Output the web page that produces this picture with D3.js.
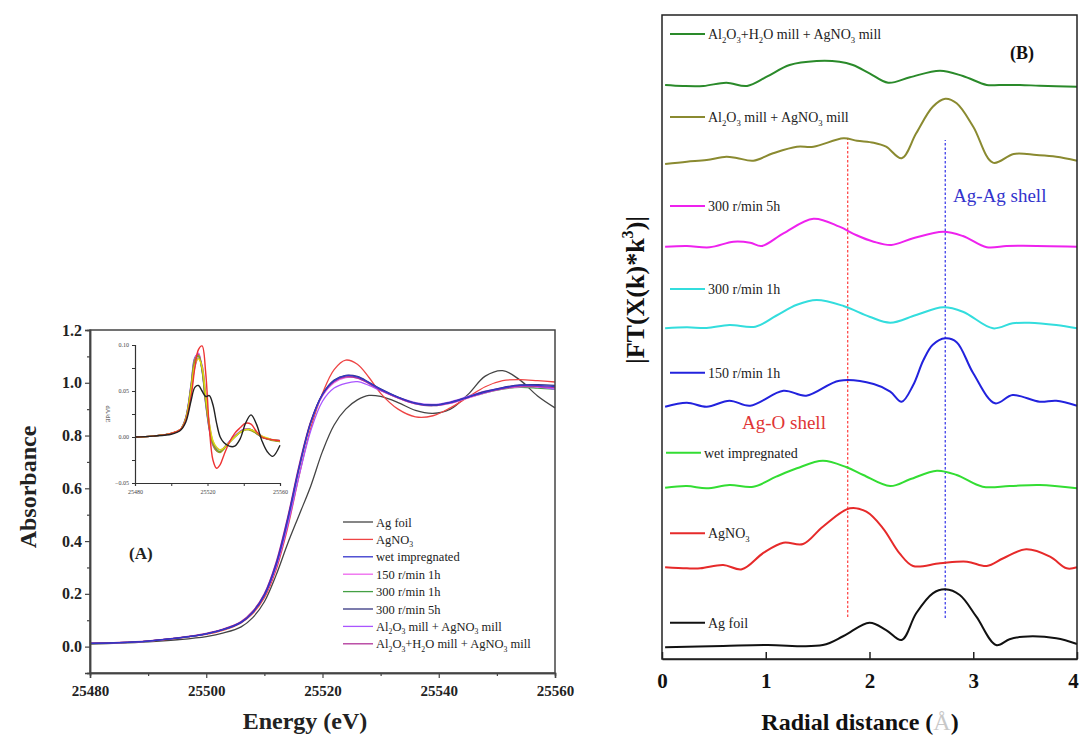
<!DOCTYPE html>
<html>
<head>
<meta charset="utf-8">
<script src="https://cdn.jsdelivr.net/npm/d3@7"></script>
<style>
  body { margin: 0; background: #fff; }
  text { font-family: "Liberation Serif", "DejaVu Serif", serif; }
</style>
</head>
<body>
<script>
// ---------------- DATA: panel (A) XANES ----------------
const energy = [25480, 25485, 25490, 25495, 25500, 25503, 25506, 25508, 25510, 25512, 25514, 25516, 25518, 25520, 25522, 25524, 25526, 25528, 25530, 25533, 25536, 25539, 25542, 25545, 25548, 25551, 25554, 25557, 25560];
const agFoilXanes    = [0.010,0.013,0.018,0.026,0.038,0.052,0.075,0.11,0.17,0.27,0.39,0.50,0.61,0.74,0.84,0.90,0.935,0.952,0.948,0.925,0.895,0.884,0.90,0.955,1.025,1.046,1.01,0.95,0.905];
const agno3Xanes     = [0.012,0.015,0.021,0.031,0.046,0.062,0.09,0.125,0.185,0.29,0.45,0.65,0.83,0.96,1.05,1.086,1.07,1.02,0.96,0.90,0.871,0.875,0.905,0.945,0.985,1.008,1.012,1.008,1.003];
const wetXanes       = [0.012,0.015,0.021,0.032,0.048,0.065,0.092,0.13,0.195,0.31,0.48,0.68,0.85,0.955,1.008,1.027,1.022,1.0,0.975,0.945,0.922,0.915,0.925,0.945,0.965,0.98,0.99,0.99,0.985];
const mill150Xanes   = [0.012,0.015,0.021,0.032,0.048,0.066,0.094,0.133,0.2,0.315,0.485,0.685,0.85,0.95,1.0,1.02,1.018,0.998,0.972,0.942,0.92,0.913,0.922,0.942,0.962,0.977,0.985,0.984,0.98];
const mill300hXanes  = [0.012,0.015,0.021,0.032,0.048,0.065,0.093,0.131,0.197,0.312,0.482,0.682,0.85,0.952,1.004,1.025,1.02,0.999,0.973,0.943,0.92,0.913,0.923,0.943,0.962,0.976,0.983,0.98,0.975];
const mill300h5Xanes = [0.012,0.015,0.021,0.032,0.048,0.065,0.092,0.13,0.195,0.31,0.48,0.68,0.852,0.957,1.01,1.028,1.024,1.002,0.977,0.946,0.923,0.916,0.926,0.946,0.967,0.982,0.992,0.993,0.99];
const al2o3Xanes     = [0.012,0.015,0.021,0.032,0.048,0.065,0.092,0.13,0.193,0.3,0.46,0.65,0.82,0.93,0.98,0.998,1.004,0.99,0.97,0.945,0.925,0.918,0.928,0.948,0.968,0.982,0.99,0.985,0.975];
const al2o3H2OXanes  = [0.013,0.016,0.022,0.033,0.05,0.067,0.095,0.134,0.2,0.318,0.49,0.69,0.855,0.955,1.005,1.022,1.018,0.997,0.972,0.943,0.921,0.914,0.924,0.944,0.964,0.978,0.987,0.986,0.982];

const sampleNames = ["Ag foil", "AgNO_3", "wet impregnated", "150 r/min 1h", "300 r/min 1h", "300 r/min 5h", "Al_2O_3 mill + AgNO_3 mill", "Al_2O_3+H_2O mill + AgNO_3 mill"];
const xanesColors = ["#444444", "#ee4444", "#3535cc", "#ee66ee", "#44a044", "#353580", "#aa55ff", "#b03399"];

// inset: first derivative
const energyDeriv = [25480,25490,25500,25505,25508,25511,25513,25515,25517,25519,25521,25523,25525,25527,25529,25532,25535,25538,25541,25544,25547,25550,25553,25556,25560];
const agFoilDeriv    = [0,0.001,0.003,0.007,0.016,0.04,0.054,0.056,0.05,0.044,0.045,0.035,0.015,0.0,-0.006,-0.01,-0.01,-0.002,0.015,0.024,0.014,-0.004,-0.016,-0.021,-0.009];
const agno3Deriv     = [0,0.001,0.004,0.008,0.018,0.045,0.075,0.095,0.099,0.07,0.01,-0.025,-0.034,-0.03,-0.02,-0.006,0.004,0.01,0.015,0.014,0.006,0.0,-0.002,-0.003,-0.004];
const wetDeriv       = [0,0.001,0.004,0.008,0.021,0.058,0.086,0.09,0.072,0.036,0.008,-0.009,-0.015,-0.016,-0.012,-0.005,0.001,0.006,0.009,0.008,0.004,0.0,-0.002,-0.003,-0.004];
const mill150Deriv   = [0,0.001,0.004,0.008,0.021,0.057,0.085,0.091,0.074,0.038,0.009,-0.009,-0.015,-0.016,-0.012,-0.005,0.001,0.006,0.009,0.008,0.004,0.0,-0.002,-0.003,-0.004];
const mill300hDeriv  = [0,0.001,0.004,0.008,0.02,0.055,0.082,0.088,0.074,0.04,0.011,-0.007,-0.014,-0.016,-0.013,-0.006,0.0,0.005,0.008,0.008,0.004,0.0,-0.002,-0.003,-0.005];
const mill300h5Deriv = [0,0.001,0.004,0.008,0.02,0.056,0.084,0.089,0.073,0.038,0.01,-0.008,-0.015,-0.017,-0.013,-0.006,0.0,0.005,0.008,0.007,0.004,0.0,-0.002,-0.004,-0.005];
const al2o3Deriv     = [0,0.001,0.004,0.008,0.019,0.05,0.076,0.086,0.078,0.046,0.014,-0.005,-0.012,-0.014,-0.012,-0.006,0.0,0.005,0.008,0.008,0.005,0.001,-0.002,-0.003,-0.004];
const al2o3H2ODeriv  = [0,0.001,0.004,0.008,0.019,0.052,0.078,0.085,0.076,0.045,0.015,-0.004,-0.011,-0.014,-0.012,-0.006,0.0,0.005,0.008,0.008,0.005,0.001,-0.001,-0.003,-0.004];
const derivColors = ["#222222", "#ee3333", "#4444dd", "#dd55dd", "#55aa33", "#999922", "#9944dd", "#dddd11"];

const xanesTicksX = [25480, 25500, 25520, 25540, 25560];
const xanesTicksY = [0.0, 0.2, 0.4, 0.6, 0.8, 1.0, 1.2];
const derivTicksY = [-0.05, 0.00, 0.05, 0.10];
const derivTickLabelsX = [25480, 25520, 25560];

// ---------------- DATA: panel (B) FT-EXAFS (stacked, arbitrary units) ----------------
const ftAgFoil = [[0.03,0.182],[0.59,0.202],[1.01,0.217],[1.55,0.217],[1.75,0.357],[2.0,0.564],[2.16,0.450],[2.31,0.295],[2.45,0.710],[2.61,1.020],[2.73,1.082],[2.87,0.994],[3.03,0.657],[3.22,0.217],[3.35,0.306],[3.48,0.346],[3.8,0.322],[4.0,0.233]];
const ftAgNO3 = [[0.03,1.424],[0.24,1.408],[0.37,1.408],[0.59,1.460],[0.77,1.393],[0.98,1.651],[1.17,1.806],[1.36,1.786],[1.55,2.054],[1.81,2.340],[1.97,2.287],[2.13,2.030],[2.29,1.641],[2.42,1.444],[2.68,1.486],[2.94,1.511],[3.13,1.444],[3.29,1.564],[3.51,1.703],[3.74,1.589],[3.9,1.408],[4.0,1.424]];
const ftWet = [[0.03,2.660],[0.24,2.686],[0.43,2.651],[0.65,2.702],[0.88,2.675],[1.1,2.831],[1.3,2.961],[1.55,3.079],[1.78,2.977],[1.94,2.857],[2.2,2.686],[2.39,2.790],[2.65,2.924],[2.84,2.857],[3.09,2.675],[3.35,2.686],[3.64,2.702],[4.0,2.651]];
const ft150 = [[0.03,3.918],[0.24,3.980],[0.43,3.918],[0.65,4.011],[0.85,3.933],[1.17,4.166],[1.39,4.089],[1.71,4.321],[2.04,4.270],[2.2,4.151],[2.31,3.995],[2.42,4.25],[2.52,4.643],[2.61,4.88],[2.73,4.980],[2.84,4.92],[3.0,4.436],[3.21,3.970],[3.38,4.099],[3.64,3.995],[3.8,4.011],[4.0,3.933]];
const ft300h = [[0.03,5.135],[0.24,5.151],[0.43,5.14],[0.65,5.186],[0.9,5.16],[1.1,5.33],[1.3,5.50],[1.49,5.575],[1.75,5.481],[2.0,5.315],[2.2,5.222],[2.45,5.342],[2.71,5.461],[2.9,5.393],[3.19,5.135],[3.38,5.213],[3.54,5.222],[3.8,5.186],[4.0,5.135]];
const ft300h5 = [[0.03,6.402],[0.24,6.413],[0.46,6.393],[0.69,6.480],[0.85,6.464],[0.96,6.413],[1.17,6.610],[1.46,6.837],[1.71,6.713],[1.87,6.584],[2.04,6.480],[2.21,6.429],[2.42,6.533],[2.71,6.635],[2.9,6.568],[3.13,6.393],[3.32,6.413],[3.48,6.418],[4.0,6.402]];
const ftAl2O3 = [[0.03,7.686],[0.24,7.722],[0.43,7.748],[0.62,7.800],[0.72,7.780],[0.88,7.738],[1.07,7.853],[1.30,7.955],[1.46,7.955],[1.75,8.085],[1.88,8.048],[2.04,8.017],[2.16,7.955],[2.31,7.775],[2.45,8.163],[2.61,8.576],[2.73,8.700],[2.84,8.629],[3.0,8.266],[3.19,7.707],[3.39,7.842],[3.61,7.826],[3.80,7.800],[4.0,7.738]];
const ftAl2O3H2O = [[0.03,8.913],[0.2,8.898],[0.4,8.898],[0.62,8.949],[0.82,8.898],[1.01,9.042],[1.23,9.224],[1.49,9.286],[1.71,9.275],[1.84,9.224],[2.0,9.095],[2.18,8.949],[2.39,9.033],[2.68,9.135],[2.9,9.053],[3.13,8.913],[3.25,8.913],[3.45,8.913],[3.64,8.902],[4.0,8.887]];
const ftColors = ["#111111", "#e62a2a", "#33dd33", "#2222dd", "#33dddd", "#ee22ee", "#8a8a30", "#2a8a2a"];
const ftTicksX = [0, 1, 2, 3, 4];
const shellAgO = [1.79, 0.652, 8.09];   // r, from, to
const shellAgAg = [2.73, 0.637, 8.06];

// ---------------- DRAW ----------------
const W = 1081, H = 737;
const svg = d3.select("body").append("svg").attr("width", W).attr("height", H);

function rich(textSel, str, fs) {
  // "_d" subscript, "^d" superscript
  const parts = str.split(/(_\d|\^\d)/).filter(p => p.length);
  let shift = 0;
  parts.forEach(p => {
    if (p[0] === "_" || p[0] === "^") {
      const d = p[0] === "_" ? fs * 0.28 : -fs * 0.42;
      textSel.append("tspan").attr("dy", d - shift).attr("font-size", fs * 0.62).text(p[1]);
      shift = d;
    } else {
      textSel.append("tspan").attr("dy", -shift).text(p);
      shift = 0;
    }
  });
}

// ===== Panel A =====
const A = {l: 90, r: 555, t: 330, b: 673};
const xA = d3.scaleLinear().domain([25480, 25560]).range([A.l, A.r]);
const yA = d3.scaleLinear().domain([-0.1, 1.2]).range([A.b, A.t]);
const gA = svg.append("g");

const xanesSeries = [agFoilXanes, agno3Xanes, wetXanes, mill150Xanes, mill300hXanes, mill300h5Xanes, al2o3Xanes, al2o3H2OXanes];
const lineA = d3.line().x(d => xA(d[0])).y(d => yA(d[1])).curve(d3.curveCatmullRom.alpha(0.5));
const drawOrderA = [0, 1, 4, 3, 6, 7, 5, 2];
drawOrderA.forEach(i => {
  gA.append("path").datum(energy.map((e, k) => [e, xanesSeries[i][k]]))
    .attr("d", lineA).attr("fill", "none").attr("stroke", xanesColors[i]).attr("stroke-width", 1.3);
});

// axes A
gA.append("g").attr("transform", `translate(0,${A.b})`)
  .call(d3.axisBottom(xA).tickValues(xanesTicksX).tickFormat(d3.format("d")).tickSize(5).tickPadding(7));
gA.append("g").attr("transform", `translate(0,${A.b})`)
  .call(d3.axisBottom(xA).tickValues(d3.range(25490, 25560, 20)).tickFormat("").tickSize(3));
const ayA = gA.append("g").attr("transform", `translate(${A.l},0)`)
  .call(d3.axisLeft(yA).tickValues(xanesTicksY).tickFormat(d3.format(".1f")).tickSize(5).tickPadding(3));
gA.append("g").attr("transform", `translate(${A.l},0)`)
  .call(d3.axisLeft(yA).tickValues([-0.1, 0.1, 0.3, 0.5, 0.7, 0.9, 1.1]).tickFormat("").tickSize(3));
gA.selectAll(".domain").attr("stroke", "#444").attr("stroke-width", 1.5);
gA.selectAll(".tick line").attr("stroke", "#444").attr("stroke-width", 1.2);
gA.selectAll(".tick text").attr("font-family", "Liberation Serif").attr("font-weight", "bold").attr("font-size", 15).attr("fill", "#222");
ayA.selectAll(".tick text").attr("font-size", 16);
gA.append("rect").attr("x", A.l).attr("y", A.t).attr("width", A.r - A.l).attr("height", A.b - A.t)
  .attr("fill", "none").attr("stroke", "#444").attr("stroke-width", 1.5);

gA.append("text").attr("x", 305).attr("y", 729).attr("text-anchor", "middle")
  .attr("font-weight", "bold").attr("font-size", 24).attr("fill", "#222").text("Energy (eV)");
gA.append("text").attr("transform", `translate(36,487) rotate(-90)`).attr("text-anchor", "middle")
  .attr("font-weight", "bold").attr("font-size", 24).attr("fill", "#222").text("Absorbance");
gA.append("text").attr("x", 129).attr("y", 559).attr("font-weight", "bold").attr("font-size", 17).attr("fill", "#222").text("(A)");

// legend A
sampleNames.forEach((n, i) => {
  const y = 522 + i * 17.4;
  gA.append("line").attr("x1", 343).attr("x2", 373).attr("y1", y).attr("y2", y)
    .attr("stroke", xanesColors[i]).attr("stroke-width", 1.3);
  const t = gA.append("text").attr("x", 376).attr("y", y + 4.5).attr("font-size", 12.5).attr("fill", "#222");
  rich(t, n, 12.5);
});

// inset
const I = {l: 135, r: 280, t: 345, b: 483};
const xI = d3.scaleLinear().domain([25480, 25560]).range([I.l, I.r]);
const yI = d3.scaleLinear().domain([-0.05, 0.10]).range([I.b, I.t]);
const gI = svg.append("g");
const derivSeries = [agFoilDeriv, agno3Deriv, wetDeriv, mill150Deriv, mill300hDeriv, mill300h5Deriv, al2o3Deriv, al2o3H2ODeriv];
const lineI = d3.line().x(d => xI(d[0])).y(d => yI(d[1])).curve(d3.curveCatmullRom.alpha(0.5));
[2, 3, 6, 4, 5, 7, 1, 0].forEach(i => {
  gI.append("path").datum(energyDeriv.map((e, k) => [e, derivSeries[i][k]]))
    .attr("d", lineI).attr("fill", "none").attr("stroke", derivColors[i]).attr("stroke-width", 1.4);
});
gI.append("g").attr("transform", `translate(0,${I.b})`)
  .call(d3.axisBottom(xI).tickValues([25480, 25500, 25520, 25540, 25560])
    .tickFormat(d => derivTickLabelsX.includes(d) ? d : "").tickSize(3).tickPadding(4));
gI.append("g").attr("transform", `translate(${I.l},0)`)
  .call(d3.axisLeft(yI).tickValues(d3.range(-0.05, 0.1001, 0.025))
    .tickFormat(d => derivTicksY.some(v => Math.abs(v - d) < 1e-9) ? d3.format(".2f")(d) : "").tickSize(3).tickPadding(3));
gI.selectAll(".domain").attr("stroke", "#333").attr("stroke-width", 1.2);
gI.selectAll(".tick line").attr("stroke", "#333");
gI.selectAll(".tick text").attr("font-family", "Liberation Serif").attr("font-size", 6).attr("fill", "#444");
gI.append("text").attr("transform", `translate(106,${(I.t + I.b) / 2}) rotate(90)`).attr("text-anchor", "middle")
  .attr("font-size", 6.5).attr("fill", "#333").text("dA/dE");

// ===== Panel B =====
const B = {l: 662, r: 1077, t: 15, b: 659};
const xB = d3.scaleLinear().domain([0, 4]).range([B.l, B.r]);
const yB = d3.scaleLinear().domain([0, 10]).range([B.b, B.t]);
const gB = svg.append("g");

// shell markers
[[shellAgO, "#ff3b3b"], [shellAgAg, "#3030e8"]].forEach(([m, c]) => {
  gB.append("line").attr("x1", xB(m[0])).attr("x2", xB(m[0])).attr("y1", yB(m[1])).attr("y2", yB(m[2]))
    .attr("stroke", c).attr("stroke-width", 1.2).attr("stroke-dasharray", "2.5,2");
});

const ftSeries = [ftAgFoil, ftAgNO3, ftWet, ft150, ft300h, ft300h5, ftAl2O3, ftAl2O3H2O];
const ftNames = ["Ag foil", "AgNO_3", "wet impregnated", "150 r/min 1h", "300 r/min 1h", "300 r/min 5h", "Al_2O_3 mill + AgNO_3 mill", "Al_2O_3+H_2O mill + AgNO_3 mill"];
const lineB = d3.line().x(d => xB(d[0])).y(d => yB(d[1])).curve(d3.curveCatmullRom.alpha(0.5));
ftSeries.forEach((s, i) => {
  gB.append("path").datum(s).attr("d", lineB).attr("fill", "none")
    .attr("stroke", ftColors[i]).attr("stroke-width", 2);
});

// legend B (labels above each trace)
const legBY = [622.7, 533.3, 452.7, 372.7, 289, 206, 117, 34];
ftNames.forEach((n, i) => {
  const y = legBY[i];
  const x0 = i === 2 ? 666 : 670;
  gB.append("line").attr("x1", x0).attr("x2", x0 + 35).attr("y1", y).attr("y2", y)
    .attr("stroke", ftColors[i]).attr("stroke-width", 2);
  const t = gB.append("text").attr("x", x0 + 38).attr("y", y + 5).attr("font-size", 14).attr("fill", "#222");
  rich(t, n, 14);
});

// axes B
const axB = gB.append("g").attr("transform", `translate(0,${B.b})`)
  .call(d3.axisBottom(xB).tickValues(ftTicksX).tickFormat(d3.format("d")).tickSizeInner(-7).tickSizeOuter(0).tickPadding(14));
axB.selectAll(".tick text").attr("font-family", "Liberation Serif").attr("font-weight", "bold").attr("font-size", 21).attr("fill", "#111")
  .attr("dx", d => d === 4 ? -4 : 0);
axB.selectAll(".tick line").attr("stroke", "#222").attr("stroke-width", 1.5);
axB.select(".domain").attr("stroke", "#222").attr("stroke-width", 1.5);
gB.append("rect").attr("x", B.l).attr("y", B.t).attr("width", B.r - B.l).attr("height", B.b - B.t)
  .attr("fill", "none").attr("stroke", "#222").attr("stroke-width", 1.5);

gB.append("text").attr("x", 1010).attr("y", 59).attr("font-weight", "bold").attr("font-size", 18).attr("fill", "#111").text("(B)");
gB.append("text").attr("x", 953).attr("y", 202).attr("font-size", 19).attr("fill", "#3333cc").text("Ag-Ag shell");
gB.append("text").attr("x", 742).attr("y", 429).attr("font-size", 19).attr("fill", "#e03535").text("Ag-O shell");

const xt = gB.append("text").attr("x", 860).attr("y", 730).attr("text-anchor", "middle")
  .attr("font-weight", "bold").attr("font-size", 24).attr("fill", "#111");
xt.append("tspan").text("Radial distance (");
xt.append("tspan").attr("fill", "#c8c8c8").attr("font-weight", "normal").text("Å");
xt.append("tspan").text(")");

const yt = gB.append("text").attr("transform", `translate(644,290) rotate(-90)`).attr("text-anchor", "middle")
  .attr("font-weight", "bold").attr("font-size", 26).attr("fill", "#111");
rich(yt, "|FT(X(k)*k^3)|", 26);
</script>
</body>
</html>
